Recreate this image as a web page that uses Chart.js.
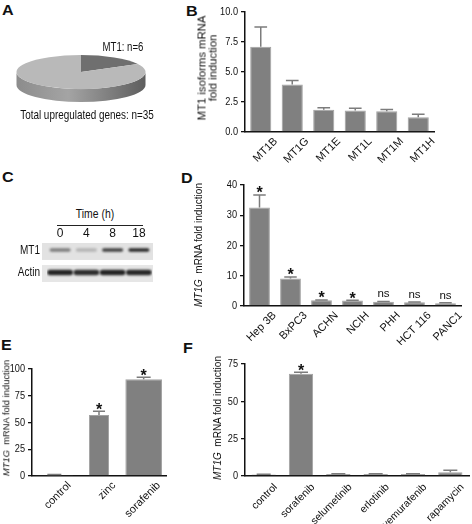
<!DOCTYPE html>
<html>
<head>
<meta charset="utf-8">
<script src="https://cdn.jsdelivr.net/npm/chart.js@4.4.1/dist/chart.umd.min.js"></script>
<style>
  html, body { margin: 0; padding: 0; background: #fff; overflow: hidden; }
  body { width: 472px; height: 524px; position: relative; font-family: "Liberation Sans", Arial, sans-serif; color: #111; }
  canvas { position: absolute; }
  .t { position: absolute; white-space: nowrap; line-height: 1; }
  /* horizontal text in the figure is condensed */
  .mid { transform: translate(-50%, -50%) scaleX(0.8); }
  .end { transform-origin: 100% 50%; transform: translate(-100%, -50%) scaleX(0.8); }
  .rot { transform: translate(-50%, -50%) rotate(-90deg); text-align: center; }
  .letter { position: absolute; font-weight: bold; font-size: 14px; line-height: 1; transform: scaleX(1.15); transform-origin: 0 0; }
</style>
</head>
<body>
<div class="letter" style="left:2px;top:3px">A</div>
<div class="letter" style="left:186px;top:4px">B</div>
<div class="letter" style="left:2px;top:170px">C</div>
<div class="letter" style="left:181px;top:171px">D</div>
<div class="letter" style="left:1px;top:338px">E</div>
<div class="letter" style="left:183px;top:341px">F</div>
<script>
// ---- data ----
// A: pie
const pieLabels = ['MT1', 'other'];
const pieCounts = [6, 29];

// B: MT1 isoforms
const isoLabels = ['MT1B', 'MT1G', 'MT1E', 'MT1L', 'MT1M', 'MT1H'];
const isoFold   = [7.1, 3.95, 1.85, 1.8, 1.72, 1.22];
const isoErr    = [1.65, 0.35, 0.18, 0.17, 0.16, 0.25];
const isoTicks  = [0, 2.5, 5, 7.5, 10];

// C: western blot (lanes = hours)
const blotLanes  = ['0', '4', '8', '18'];
const mt1Level   = [0.5, 0.22, 0.8, 0.92];
const actinLevel = [0.95, 0.9, 0.95, 0.93];

// D: cell lines
const cellLabels = ['Hep 3B', 'BxPC3', 'ACHN', 'NCIH', 'PHH', 'HCT 116', 'PANC1'];
const cellFold   = [32.6, 9.1, 1.9, 1.8, 1.4, 1.2, 0.95];
const cellErr    = [4.1, 0.5, 0.1, 0.1, 0.1, 0.1, 0.1];
const cellSig    = ['*', '*', '*', '*', 'ns', 'ns', 'ns'];
const cellTicks  = [0, 10, 20, 30, 40];

// E: zinc vs sorafenib
const treatLabels = ['control', 'zinc', 'sorafenib'];
const treatFold   = [1, 57, 90.5];
const treatErr    = [0.3, 3.5, 1.8];
const treatSig    = ['', '*', '*'];
const treatTicks  = [0, 25, 50, 75, 100];

// F: kinase inhibitors
const drugLabels = ['control', 'sorafenib', 'selumetinib', 'erlotinib', 'vemurafenib', 'rapamycin'];
const drugFold   = [1, 68.5, 1.3, 1.3, 1.3, 2.5];
const drugErr    = [0.2, 1, 0.2, 0.2, 0.2, 1.3];
const drugSig    = ['', '*', '', '', '', ''];
const drugTicks  = [0, 25, 50, 75];

const SANS = "'Liberation Sans', Arial, sans-serif";
Chart.defaults.font.family = SANS;
Chart.defaults.color = '#111';

function addCanvas(x, y, w, h) {
  const c = document.createElement('canvas');
  c.width = w; c.height = h;
  Object.assign(c.style, { left: x + 'px', top: y + 'px', width: w + 'px', height: h + 'px' });
  document.body.appendChild(c);
  return c;
}
function addText(html, x, y, cls, size, extra) {
  const d = document.createElement('div');
  d.className = 't ' + cls;
  d.innerHTML = html;
  Object.assign(d.style, { left: x + 'px', top: y + 'px', fontSize: size + 'px' }, extra || {});
  document.body.appendChild(d);
  return d;
}

// whiskers (upper only) + significance marks
const errorBars = {
  id: 'errorBars',
  afterDatasetsDraw(chart, args, opts) {
    const ctx = chart.ctx, y = chart.scales.y;
    const errs = opts.err || [], marks = opts.marks || [];
    ctx.save();
    ctx.strokeStyle = '#7c7c7c';
    ctx.lineWidth = 1.5;
    chart.data.datasets.forEach((ds, d) => {
      chart.getDatasetMeta(d).data.forEach((bar, i) => {
        if (ds.data[i] == null) return;
        const top = y.getPixelForValue(ds.data[i] + (errs[i] || 0));
        if (errs[i]) {
          const half = Math.min(bar.width * 0.3, 7);
          ctx.beginPath();
          ctx.moveTo(bar.x, bar.y); ctx.lineTo(bar.x, top);
          ctx.moveTo(bar.x - half, top); ctx.lineTo(bar.x + half, top);
          ctx.stroke();
        }
        const m = marks[i];
        if (!m) return;
        ctx.fillStyle = '#111';
        ctx.textAlign = 'center';
        ctx.textBaseline = 'alphabetic';
        if (m === '*') { ctx.font = 'bold 16px ' + SANS; ctx.fillText(m, bar.x, top + 3.5); }
        else { ctx.font = '11.5px ' + SANS; ctx.fillText(m, bar.x, top - 4); }
      });
    });
    ctx.restore();
  }
};

// the y tick numbers are set in a condensed face: squeeze them about their right edge
const condenseY = {
  id: 'condenseY',
  afterLayout(chart, args, o) {
    const s = chart.scales.y;
    if (!s || s._condensed) return;
    const draw = s.drawLabels.bind(s);
    s.drawLabels = area => {
      const ctx = s.ctx;
      const ax = s.right - s.options.grid.tickLength - s.options.ticks.padding;
      ctx.save();
      ctx.translate(ax, 0); ctx.scale(o.k || 0.8, 1); ctx.translate(-ax, 0);
      draw(area);
      ctx.restore();
    };
    s._condensed = true;
  }
};

// g: canvas box + plot area in page pixels; widths: bar width share per category
function barPanel(g, labels, values, errs, marks, ticks, fmt) {
  const cv = addCanvas(g.cx, g.cy, g.cw, g.ch);
  const base = { backgroundColor: '#808080', borderColor: '#a2a2a2', borderWidth: 1, categoryPercentage: 1, grouped: false };
  const datasets = g.widths
    ? labels.map((_, k) => Object.assign({ data: values.map((v, i) => (i === k ? v : null)), barPercentage: g.widths[k] }, base))
    : [Object.assign({ data: values, barPercentage: g.bar }, base)];
  return new Chart(cv, {
    type: 'bar',
    data: { labels, datasets },
    options: {
      responsive: false,
      animation: false,
      events: [],
      layout: { padding: { left: 0, top: g.T - g.cy, right: g.cx + g.cw - g.R, bottom: 0 } },
      plugins: {
        legend: { display: false },
        tooltip: { enabled: false },
        errorBars: { err: errs, marks },
        condenseY: { k: 0.8 }
      },
      scales: {
        x: {
          grid: { display: false, drawTicks: false },
          border: { color: '#111', width: 1.5 },
          ticks: { autoSkip: false, minRotation: 45, maxRotation: 45, padding: g.pad || 3, labelOffset: g.lo || 15, font: { size: g.fs || 11 } },
          afterCalculateLabelRotation: s => { s.labelRotation = 45; },
          afterFit: s => { s.height = g.cy + g.ch - g.B; }
        },
        y: {
          min: ticks[0],
          max: ticks[ticks.length - 1],
          grid: { drawOnChartArea: false, tickLength: 4, color: '#111', lineWidth: 1.3 },
          border: { color: '#111', width: 1.5 },
          afterBuildTicks: s => { s.ticks = ticks.map(v => ({ value: v })); },
          ticks: { padding: 3, font: { size: 11.5 }, callback: fmt || (v => v) },
          afterFit: s => { s.width = g.L - g.cx; }
        }
      }
    },
    plugins: [errorBars, condenseY]
  });
}

// ---- A: tilted pie ----
const tilt = {
  id: 'tilt',
  beforeDatasetsDraw(chart, args, o) {
    const { x, y, outerRadius: r } = chart.getDatasetMeta(0).data[0];
    const ry = r * o.squash;
    const ctx = chart.ctx;
    ctx.save();
    const grad = ctx.createLinearGradient(x - r, 0, x + r, 0);
    grad.addColorStop(0, '#8c8c8c');
    grad.addColorStop(0.4, '#a4a4a4');
    grad.addColorStop(1, '#5e5e5e');
    ctx.fillStyle = grad;
    ctx.beginPath();
    ctx.ellipse(x, y, r, ry, 0, 0, Math.PI, false);
    ctx.lineTo(x - r, y + o.depth);
    ctx.ellipse(x, y + o.depth, r, ry, 0, Math.PI, 0, true);
    ctx.closePath();
    ctx.fill();
    ctx.restore();
    ctx.save();
    ctx.translate(x, y);
    ctx.scale(1, o.squash);
    ctx.translate(-x, -y);
  },
  afterDatasetsDraw(chart) { chart.ctx.restore(); }
};
{
  const pieR = 64.5, side = 134;
  const cv = addCanvas(80.5 - side / 2, 72 - side / 2, side, side);
  new Chart(cv, {
    type: 'pie',
    data: { labels: pieLabels, datasets: [{ data: pieCounts, backgroundColor: ['#6f6f6f', '#b9b9b9'], borderWidth: 0, radius: pieR }] },
    options: {
      responsive: false, animation: false, events: [],
      plugins: { legend: { display: false }, tooltip: { enabled: false }, tilt: { squash: 17 / pieR, depth: 13 } }
    },
    plugins: [tilt]
  });
  addText('MT1: n=6', 122.5, 47, 'mid', 12);
  addText('Total upregulated genes: n=35', 86.5, 115, 'mid', 12.4);
}

// ---- B ----
barPanel({ cx: 205, cy: 0, cw: 267, ch: 182, L: 245, R: 434, T: 12, B: 132, bar: 0.67 },
  isoLabels, isoFold, isoErr, [], isoTicks, v => v.toFixed(1));
addText('MT1 isoforms mRNA<br>fold induction', 207, 68, 'rot', 11.3, { lineHeight: '10.5px' });

// ---- C: blot ----
const blot = {
  id: 'blot',
  beforeDatasetsDraw(chart, args, o) {
    const { ctx, chartArea: a, scales: { y } } = chart;
    ctx.save();
    o.rows.forEach(r => {
      const t = y.getPixelForValue(r.to), b = y.getPixelForValue(r.from);
      ctx.fillStyle = r.bg;
      ctx.fillRect(a.left - 5, t, a.right - a.left + 6, b - t);
    });
    ctx.restore();
    ctx.save();
    ctx.filter = 'blur(1.1px)';
  },
  afterDatasetsDraw(chart) { chart.ctx.restore(); }
};
{
  const cv = addCanvas(36, 222, 124, 63);
  const band = lv => `rgba(25,25,25,${lv})`;
  new Chart(cv, {
    type: 'bar',
    data: {
      labels: blotLanes,
      datasets: [
        { data: blotLanes.map(() => [1.79, 1.99]), backgroundColor: mt1Level.map(band), barPercentage: 0.8, categoryPercentage: 1, borderRadius: 3, borderSkipped: false, grouped: false },
        { data: blotLanes.map(() => [0.4, 0.72]), backgroundColor: actinLevel.map(band), barPercentage: 0.98, categoryPercentage: 1, borderRadius: 3, borderSkipped: false, grouped: false }
      ]
    },
    options: {
      responsive: false, animation: false, events: [],
      layout: { padding: { left: 11, right: 8, top: 0, bottom: 3 } },
      plugins: {
        legend: { display: false }, tooltip: { enabled: false },
        blot: { rows: [{ from: 1.3, to: 2.3, bg: '#e2e2e2' }, { from: 0, to: 1, bg: '#e6e6e6' }] }
      },
      scales: {
        x: { position: 'top', grid: { display: false, drawTicks: false }, border: { display: false },
             ticks: { padding: 2, font: { size: 12 } },
             afterFit: s => { s.height = 21; } },
        y: { display: false, min: 0, max: 2.3 }
      }
    },
    plugins: [blot]
  });
  addText('Time (h)', 95, 213, 'mid', 13);
  addText('', 57, 225, '', 1, { width: '86px', borderTop: '1.2px solid #222' });
  addText('MT1', 40, 250, 'end', 12.5);
  addText('Actin', 40, 272, 'end', 12.5);
}

// ---- D ----
barPanel({ cx: 205, cy: 172, cw: 267, ch: 173, L: 244, R: 461, T: 185, B: 306, bar: 0.67 },
  cellLabels, cellFold, cellErr, cellSig, cellTicks);
addText('<i>MT1G</i>&nbsp; mRNA fold induction', 199, 245, 'rot', 10);

// ---- E ----
barPanel({ cx: 0, cy: 355, cw: 225, ch: 169, L: 32, R: 166, T: 369, B: 476, widths: [0.85, 0.45, 0.82] },
  treatLabels, treatFold, treatErr, treatSig, treatTicks);
addText('<i>MT1G</i>&nbsp; mRNA fold induction', 5.5, 418, 'rot', 9.4);

// ---- F ----
barPanel({ cx: 205, cy: 350, cw: 267, ch: 174, L: 245, R: 469, T: 364, B: 476, bar: 0.65, lo: 12, pad: 5, fs: 10.5 },
  drugLabels, drugFold, drugErr, drugSig, drugTicks);
addText('<i>MT1G</i>&nbsp; mRNA fold induction', 218, 418, 'rot', 10);
</script>
</body>
</html>
